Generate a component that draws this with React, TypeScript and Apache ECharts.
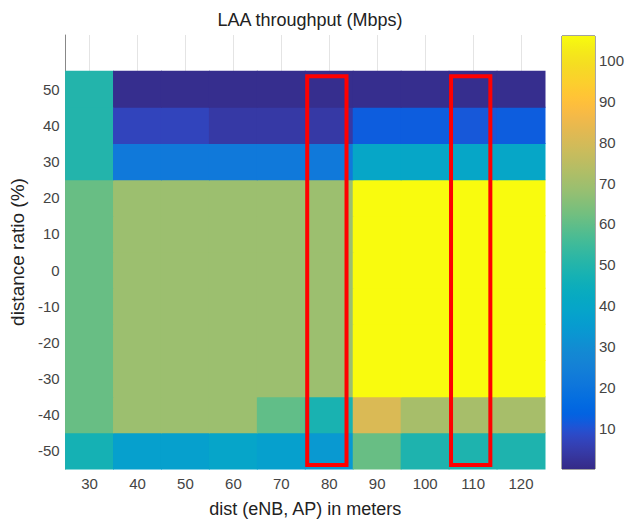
import React, { useEffect, useRef } from "react";
import * as echarts from "echarts";

const xCategories = ["30", "40", "50", "60", "70", "80", "90", "100", "110", "120"];
const yCategories = ["-50", "-40", "-30", "-20", "-10", "0", "10", "20", "30", "40", "50", ""];

// throughput (Mbps) per distance ratio row, columns follow xCategories
const rowM50 = [47, 37, 37, 39, 37, 34, 61, 49, 49, 49];
const rowM40 = [61, 69, 69, 69, 60, 48, 81, 71, 71, 71];
const rowM30 = [61, 69, 69, 69, 69, 69, 106, 106, 106, 106];
const rowM20 = [61, 69, 69, 69, 69, 69, 106, 106, 106, 106];
const rowM10 = [61, 69, 69, 69, 69, 69, 106, 106, 106, 106];
const row0 = [61, 69, 69, 69, 69, 69, 106, 106, 106, 106];
const rowP10 = [61, 69, 69, 69, 69, 69, 106, 106, 106, 106];
const rowP20 = [61, 69, 69, 69, 69, 69, 106, 106, 106, 106];
const rowP30 = [50, 22, 22, 22, 22, 22, 40, 40, 40, 40];
const rowP40 = [50, 7, 7, 4, 4, 4, 12, 12, 11, 12];
const rowP50 = [50, 1, 1, 1, 1, 1, 1, 1, 1, 1];
const rows = [rowM50, rowM40, rowM30, rowM20, rowM10, row0, rowP10, rowP20, rowP30, rowP40, rowP50];

const colorMin = 0;
const colorMax = 106;
const highlightedColumns = ["80", "110"];

// MATLAB parula colormap (64 entries)
const parulaRGB = [
  [0.2081, 0.1663, 0.5292], [0.2116, 0.1898, 0.5777], [0.2123, 0.2138, 0.627], [0.2081, 0.2386, 0.6771],
  [0.1959, 0.2645, 0.7279], [0.1707, 0.2919, 0.7792], [0.1253, 0.3242, 0.8303], [0.0591, 0.3598, 0.8683],
  [0.0117, 0.3875, 0.882], [0.006, 0.4086, 0.8828], [0.0165, 0.4266, 0.8786], [0.0329, 0.443, 0.872],
  [0.0498, 0.4586, 0.8641], [0.0629, 0.4737, 0.8554], [0.0723, 0.4887, 0.8467], [0.0779, 0.504, 0.8384],
  [0.0793, 0.52, 0.8312], [0.0749, 0.5375, 0.8263], [0.0641, 0.557, 0.824], [0.0488, 0.5772, 0.8228],
  [0.0343, 0.5966, 0.8199], [0.0265, 0.6137, 0.8135], [0.0239, 0.6287, 0.8038], [0.0231, 0.6418, 0.7913],
  [0.0228, 0.6535, 0.7768], [0.0267, 0.6642, 0.7607], [0.0384, 0.6743, 0.7436], [0.059, 0.6838, 0.7254],
  [0.0843, 0.6928, 0.7062], [0.1133, 0.7015, 0.6859], [0.1453, 0.7098, 0.6646], [0.1801, 0.7177, 0.6424],
  [0.2178, 0.725, 0.6193], [0.2586, 0.7317, 0.5954], [0.3022, 0.7376, 0.5712], [0.3482, 0.7424, 0.5473],
  [0.3953, 0.7459, 0.5244], [0.442, 0.7481, 0.5033], [0.4871, 0.7491, 0.484], [0.53, 0.7491, 0.4661],
  [0.5709, 0.7485, 0.4494], [0.6099, 0.7473, 0.4337], [0.6473, 0.7456, 0.4188], [0.6834, 0.7435, 0.4044],
  [0.7184, 0.7411, 0.3905], [0.7525, 0.7384, 0.3768], [0.7858, 0.7356, 0.3633], [0.8185, 0.7327, 0.3498],
  [0.8507, 0.7299, 0.336], [0.8824, 0.7274, 0.3217], [0.9139, 0.7258, 0.3063], [0.945, 0.7261, 0.2886],
  [0.9739, 0.7314, 0.2666], [0.9938, 0.7455, 0.2403], [0.999, 0.7653, 0.2164], [0.9955, 0.7861, 0.1967],
  [0.988, 0.8066, 0.1794], [0.9789, 0.8271, 0.1633], [0.9697, 0.8481, 0.1475], [0.9626, 0.8705, 0.1309],
  [0.9589, 0.8949, 0.1132], [0.9598, 0.9218, 0.0948], [0.9661, 0.9514, 0.0755], [0.9763, 0.9831, 0.0538],
];
const parula = parulaRGB.map(
  (c) => "rgb(" + c.map((v) => Math.round(v * 255)).join(",") + ")"
);

export default function App() {
  const ref = useRef<HTMLDivElement>(null);
  useEffect(() => {
    if (!ref.current) return;
    const chart = echarts.init(ref.current, null, { renderer: "svg" });
    const heatData: number[][] = [];
    rows.forEach((r, yi) => r.forEach((v, xi) => heatData.push([xi, yi, v])));
    const font = "Liberation Sans, Arial, sans-serif";
    const gradStops = parula.map((c, i) => ({ offset: i / (parula.length - 1), color: c }));
    chart.setOption({
      animation: false,
      backgroundColor: "#fff",
      textStyle: { fontFamily: font },
      title: {
        text: "LAA throughput (Mbps)",
        left: 305,
        textAlign: "center",
        top: 6,
        textStyle: { fontSize: 18, fontWeight: "normal", color: "#222", fontFamily: font },
      },
      visualMap: {
        type: "continuous",
        show: false,
        seriesIndex: 0,
        dimension: 2,
        min: colorMin,
        max: colorMax,
        inRange: { color: parula },
      },
      grid: [
        { left: 64, right: 82, top: 35, bottom: 54 },
        { left: 562, top: 36, width: 33, height: 433, show: true, borderColor: "#444", borderWidth: 1, backgroundColor: "transparent" },
      ],
      xAxis: [
        {
          type: "category",
          gridIndex: 0,
          data: xCategories,
          name: "dist (eNB, AP) in meters",
          nameLocation: "middle",
          nameGap: 31,
          nameTextStyle: { fontSize: 18, color: "#222", fontFamily: font },
          axisLine: { show: false },
          axisTick: { show: false },
          axisLabel: { fontSize: 15, color: "#444", margin: 7, fontFamily: font },
          splitLine: { show: true, alignWithLabel: true, lineStyle: { color: "#e4e4e4", width: 1 } },
        },
        { type: "category", gridIndex: 1, data: [""], show: false },
      ],
      yAxis: [
        {
          type: "category",
          gridIndex: 0,
          data: yCategories,
          name: "distance ratio (%)",
          nameLocation: "middle",
          nameGap: 34,
          nameTextStyle: { fontSize: 19, color: "#222", fontFamily: font },
          axisLine: { show: true, lineStyle: { color: "#888", width: 1 } },
          axisTick: { show: false },
          axisLabel: { fontSize: 15, color: "#444", margin: 6, fontFamily: font },
          splitLine: { show: false },
        },
        {
          type: "value",
          gridIndex: 1,
          position: "right",
          min: colorMin,
          max: colorMax,
          interval: 10,
          axisLine: { show: false },
          axisTick: { show: true, inside: true, length: 5, lineStyle: { color: "#333" } },
          axisLabel: { fontSize: 15, color: "#444", margin: 4, showMinLabel: false, showMaxLabel: false, fontFamily: font },
          splitLine: { show: false },
        },
      ],
      series: [
        {
          type: "custom",
          xAxisIndex: 0,
          yAxisIndex: 0,
          data: heatData,
          encode: { x: 0, y: 1 },
          z: 2,
          renderItem: (params: any, api: any) => {
            const c = api.coord([api.value(0), api.value(1)]);
            const s = api.size([1, 1]);
            return {
              type: "rect",
              shape: { x: c[0] - s[0] / 2 - 0.5, y: c[1] - s[1] / 2 - 0.5, width: s[0] + 1, height: s[1] + 1 },
              style: { fill: api.visual("color"), stroke: "none" },
            };
          },
        },
        {
          type: "custom",
          xAxisIndex: 0,
          yAxisIndex: 0,
          data: highlightedColumns.map((c) => [xCategories.indexOf(c)]),
          encode: { x: 0 },
          z: 5,
          renderItem: (params: any, api: any) => {
            const idx = api.value(0);
            const size = api.size([1, 1]);
            const bw = size[0];
            const bh = size[1];
            const bottomPt = api.coord([idx, 0]);
            const topPt = api.coord([idx, rows.length - 1]);
            const cx = bottomPt[0];
            const x0 = cx - 0.46 * bw;
            const x1 = cx + 0.36 * bw;
            const y0 = topPt[1] - bh / 2 + 0.14 * bh;
            const y1 = bottomPt[1] + bh / 2 - 0.11 * bh;
            return {
              type: "rect",
              shape: { x: x0, y: y0, width: x1 - x0, height: y1 - y0 },
              style: { fill: "none", stroke: "#ff0000", lineWidth: 4 },
            };
          },
        },
        {
          type: "bar",
          xAxisIndex: 1,
          yAxisIndex: 1,
          data: [colorMax],
          barWidth: "100%",
          itemStyle: { color: new echarts.graphic.LinearGradient(0, 1, 0, 0, gradStops) },
          emphasis: { disabled: true },
          z: 1,
        },
      ],
    });
    return () => chart.dispose();
  }, []);
  return <div ref={ref} style={{ position: "fixed", left: 0, top: 0, width: 627, height: 523, background: "#fff" }} />;
}
